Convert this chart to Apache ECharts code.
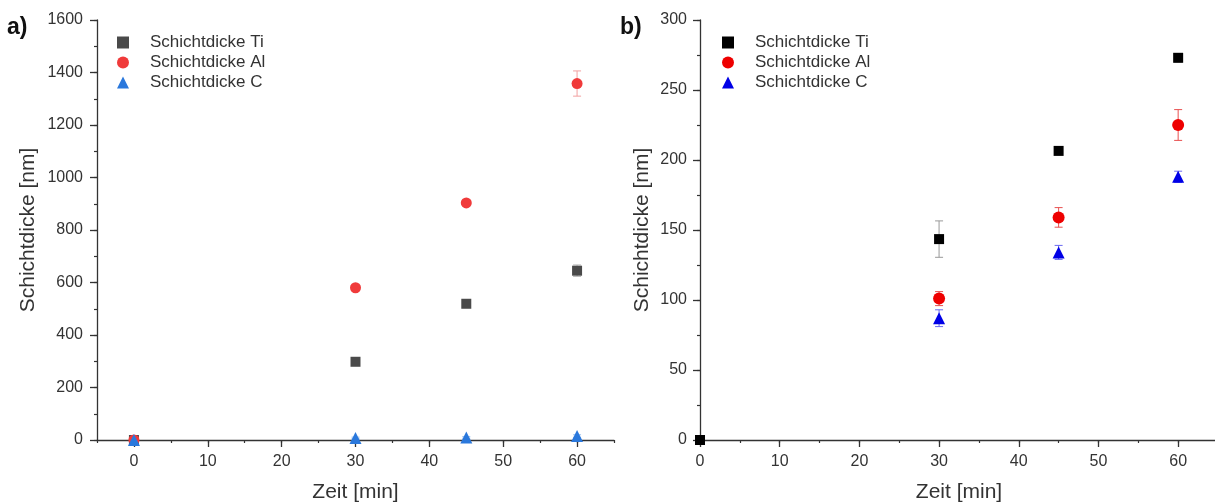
<!DOCTYPE html>
<html><head><meta charset="utf-8">
<script src="https://cdn.jsdelivr.net/npm/echarts@6/dist/echarts.min.js"></script>
<style>html,body{margin:0;padding:0;background:#fff}#c{width:1215px;height:504px}</style>
</head><body><div id="c"></div>
<script>
const times = [0, 30, 45, 60];
const seriesNames = ['Schichtdicke Ti', 'Schichtdicke Al', 'Schichtdicke C'];
// Panel a)
const aTi = [0, 298, 519, 645];
const aTiErr = [0, 8, 8, 22];
const aAl = [0, 580, 903, 1358];
const aAlErr = [0, 8, 8, 48];
const aC = [0, 8, 10, 15];
const aCErr = [0, 3, 3, 5];
// Panel b)
const bTi = [0, 143.5, 206.5, 273];
const bTiErr = [0, 13, 1.5, 3];
const bAl = [null, 101, 159, 225];
const bAlErr = [0, 5, 7, 11];
const bC = [null, 87, 134, 188];
const bCErr = [0, 6, 5, 4];
const xTicks = [0, 10, 20, 30, 40, 50, 60];

const FONT = 'Liberation Sans, Arial, sans-serif';
const AX = '#333';

function pts(vals){ return times.map((t,i)=> vals[i]==null?null:[t, vals[i]]).filter(Boolean); }
function errs(vals, e){ return times.map((t,i)=> vals[i]==null||!e[i]?null:[t, vals[i]-e[i], vals[i]+e[i]]).filter(Boolean); }

function errSeries(gi, data, color){
  return {type:'custom', xAxisIndex:gi*2, yAxisIndex:gi*2, data:data, z:1, silent:true,
    renderItem:function(params, api){
      const x = api.value(0);
      const lo = api.coord([x, api.value(1)]);
      const hi = api.coord([x, api.value(2)]);
      const w = 4;
      const st = {stroke: color, lineWidth: 1};
      return {type:'group', children:[
        {type:'line', shape:{x1:lo[0], y1:lo[1], x2:hi[0], y2:hi[1]}, style:st},
        {type:'line', shape:{x1:lo[0]-w, y1:lo[1], x2:lo[0]+w, y2:lo[1]}, style:st},
        {type:'line', shape:{x1:hi[0]-w, y1:hi[1], x2:hi[0]+w, y2:hi[1]}, style:st}
      ]};
    }};
}
function scat(gi, name, data, symbol, size, color){
  return {type:'scatter', name:name, xAxisIndex:gi*2, yAxisIndex:gi*2, data:data, symbol:symbol,
    symbolSize:size, itemStyle:{color:color, opacity:1}, z:3, clip:true};
}

function xAxes(gi, min, max){
  return [
    {type:'value', gridIndex:gi, min:min, max:max, interval:5,
     name:'Zeit [min]', nameLocation:'middle', nameGap:42,
     nameTextStyle:{fontFamily:FONT, fontSize:21, color:AX},
     axisLine:{onZero:false, lineStyle:{color:AX, width:1.3}},
     axisTick:{show:true, length:7, customValues:xTicks, lineStyle:{color:AX, width:1.3}},
     axisLabel:{fontFamily:FONT, fontSize:16, color:AX, margin:14, customValues:xTicks,
       formatter:v=>String(v)},
     splitLine:{show:false}},
    {type:'value', gridIndex:gi, min:min, max:max, interval:5, position:'bottom',
     axisLine:{show:false, onZero:false}, axisLabel:{show:false}, splitLine:{show:false},
     axisTick:{show:true, length:3, lineStyle:{color:AX, width:1.2}}}
  ];
}
function yAxes(gi, max, major, gap, margin){
  return [
    {type:'value', gridIndex:gi, min:0, max:max, interval:major,
     name:'Schichtdicke [nm]', nameLocation:'middle', nameGap:gap,
     nameTextStyle:{fontFamily:FONT, fontSize:21, color:AX},
     axisLine:{show:true, onZero:false, lineStyle:{color:AX, width:1.3}},
     axisTick:{show:true, length:7, lineStyle:{color:AX, width:1.3}},
     axisLabel:{fontFamily:FONT, fontSize:16, color:AX, margin:margin, formatter:v=>String(v)},
     splitLine:{show:false}},
    {type:'value', gridIndex:gi, min:0, max:max, interval:major/2, position:'left',
     axisLine:{show:false, onZero:false}, axisLabel:{show:false}, splitLine:{show:false},
     axisTick:{show:true, length:3, lineStyle:{color:AX, width:1.2}}}
  ];
}
function legend(left, top, names){
  return {left:left, top:top, orient:'vertical', itemGap:3, itemWidth:12, itemHeight:12,
     data:[{name:names[0], icon:'rect'}, {name:names[1], icon:'circle'}, {name:names[2], icon:'triangle'}],
     formatter:n=>seriesNames[names.indexOf(n)],
     textStyle:{fontFamily:FONT, fontSize:17, color:AX, padding:[0,0,0,16]}, selectedMode:false};
}

const option = {
  animation:false,
  backgroundColor:'#fff',
  grid:[
    {left:97, right:601, top:20, bottom:64, outerBoundsMode:'none', containLabel:false},
    {left:700, right:-3, top:20, bottom:64, outerBoundsMode:'none', containLabel:false}
  ],
  xAxis:[...xAxes(0,-5,65), ...xAxes(1,0,65)],
  yAxis:[...yAxes(0,1600,200,58,14), ...yAxes(1,300,50,47,13)],
  legend:[
    legend(112, 29, ['Schichtdicke Ti','Schichtdicke Al','Schichtdicke C']),
    legend(717, 29, ['b Ti','b Al','b C'])
  ],
  graphic:[
    {type:'text', left:7, top:16, style:{text:'a)', font:'bold 23px '+FONT, fill:'#111'}},
    {type:'text', left:620, top:16, style:{text:'b)', font:'bold 23px '+FONT, fill:'#111'}}
  ],
  series:[
    errSeries(0, errs(aTi,aTiErr), '#bbb'),
    errSeries(0, errs(aAl,aAlErr), '#f2a0a0'),
    errSeries(0, errs(aC,aCErr), '#9cc0ee'),
    scat(0, 'Schichtdicke Ti', pts(aTi), 'rect', 10, '#4a4a4a'),
    scat(0, 'Schichtdicke Al', pts(aAl), 'circle', 11, '#f03a3a'),
    scat(0, 'Schichtdicke C', pts(aC), 'triangle', 12, '#2a78dc'),
    errSeries(1, errs(bTi,bTiErr), '#999'),
    errSeries(1, errs(bAl,bAlErr), '#e85050'),
    errSeries(1, errs(bC,bCErr), '#6a6af0'),
    scat(1, 'b Al', pts(bAl), 'circle', 12, '#ee0000'),
    scat(1, 'b C', pts(bC), 'triangle', 12, '#0000e6'),
    scat(1, 'b Ti', pts(bTi), 'rect', 10, '#000000')
  ]
};
const chart = echarts.init(document.getElementById('c'), null, {renderer:'canvas'});
chart.setOption(option);
</script></body></html>
